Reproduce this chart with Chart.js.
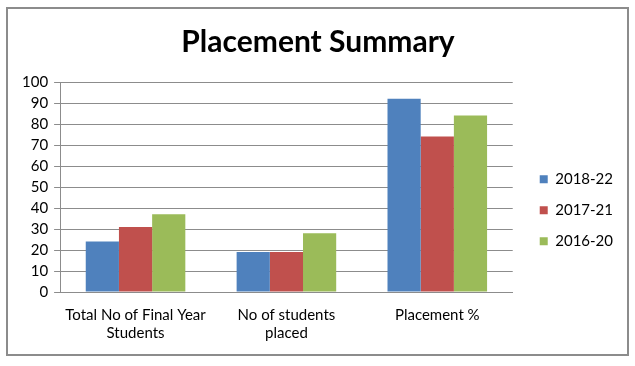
<!DOCTYPE html>
<html>
<head>
<meta charset="utf-8">
<script src="https://cdn.jsdelivr.net/npm/chart.js@4"></script>
<style>
  html, body { margin: 0; padding: 0; background: #fff; }
  #wrap { width: 635px; height: 366px; position: relative; }
</style>
</head>
<body>
<div id="wrap"><canvas id="placementChart"></canvas></div>
<script>
const categories = [
  ['Total No of Final Year', 'Students'],
  ['No of students', 'placed'],
  'Placement %'
];
const seriesNames = ['2018-22', '2017-21', '2016-20'];
const values1822 = [24, 19, 92];
const values1721 = [31, 19, 74];
const values1620 = [37, 28, 84];
const colors = ['#4F81BD', '#C0504D', '#9BBB59'];

const fontFamily = 'Lato, "Open Sans", sans-serif';

// outer frame like the exported office chart
const frame = {
  id: 'frame',
  beforeDraw(chart) {
    const c = chart.ctx;
    c.save();
    c.fillStyle = '#fff';
    c.fillRect(0, 0, chart.width, chart.height);
    c.strokeStyle = '#8c8c8c';
    c.lineWidth = 2;
    c.strokeRect(7, 8, 621, 347);
    c.restore();
  }
};

// leave a wider gap between plot and legend without spreading the entries,
// and keep the title centred on the whole frame
const nudge = {
  id: 'nudge',
  afterLayout(chart) {
    const lg = chart.legend;
    if (lg) {
      lg.left += 11;
      lg.right += 11;
    }
    const tt = chart.titleBlock;
    if (tt) {
      tt.left += 4;
      tt.right += 4;
    }
  }
};

const ctx = document.getElementById('placementChart');
new Chart(ctx, {
  type: 'bar',
  data: {
    labels: categories,
    datasets: [
      { label: seriesNames[0], data: values1822, backgroundColor: colors[0] },
      { label: seriesNames[1], data: values1721, backgroundColor: colors[1] },
      { label: seriesNames[2], data: values1620, backgroundColor: colors[2] }
    ]
  },
  options: {
    responsive: true,
    maintainAspectRatio: false,
    animation: false,
    datasets: {
      bar: { categoryPercentage: 0.66, barPercentage: 1.0 }
    },
    layout: {
      padding: { left: 16, right: 23, top: 14, bottom: 18 }
    },
    plugins: {
      title: {
        display: true,
        text: 'Placement Summary',
        color: '#000',
        font: { family: fontFamily, size: 30, weight: 'bold' },
        padding: { top: 10, bottom: 22 }
      },
      legend: {
        position: 'right',
        // empty legend title only pushes the entries down a bit
        title: { display: true, text: '', padding: { top: 44, bottom: 0 } },
        labels: {
          color: '#000',
          font: { family: fontFamily, size: 15 },
          boxWidth: 8,
          boxHeight: 8,
          padding: 16
        }
      },
      tooltip: { enabled: false }
    },
    scales: {
      x: {
        grid: { display: false },
        border: { color: '#8c8c8c' },
        ticks: {
          color: '#000',
          font: { family: fontFamily, size: 15 },
          maxRotation: 0,
          padding: 6
        }
      },
      y: {
        min: 0,
        max: 100,
        grid: { color: '#8c8c8c', drawTicks: true, tickLength: 6 },
        border: { color: '#8c8c8c' },
        ticks: {
          stepSize: 10,
          color: '#000',
          font: { family: fontFamily, size: 15 },
          padding: 6
        }
      }
    }
  },
  plugins: [frame, nudge]
});
</script>
</body>
</html>
